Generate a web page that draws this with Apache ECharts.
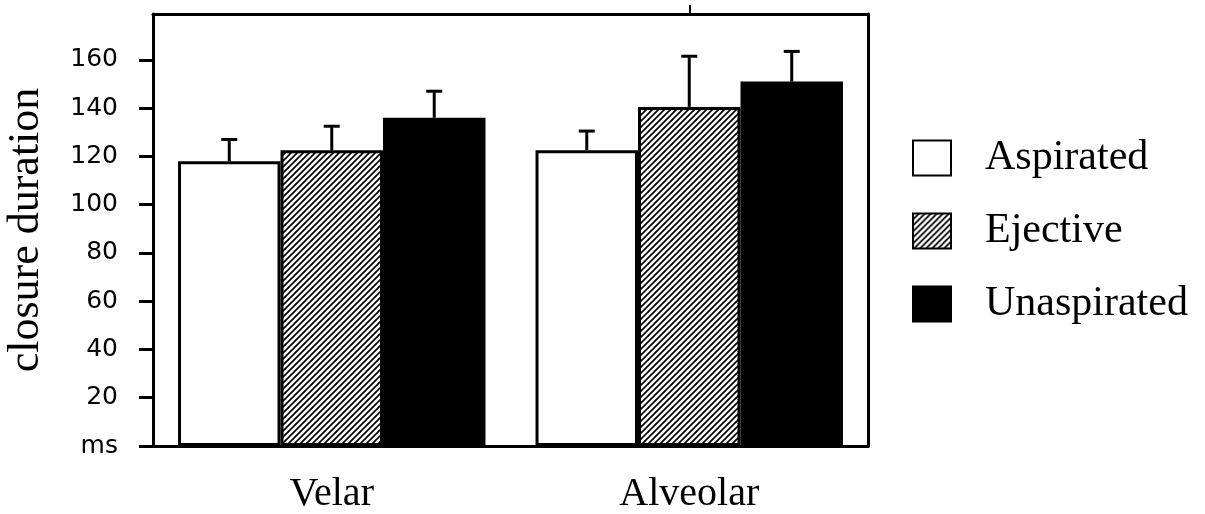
<!DOCTYPE html>
<html>
<head>
<meta charset="utf-8">
<script src="https://cdn.jsdelivr.net/npm/echarts@6/dist/echarts.min.js"></script>
<style>
  html, body { margin: 0; padding: 0; background: #fff; }
  #chart { width: 1205px; height: 514px; }
</style>
</head>
<body>
<div id="chart"></div>
<script>
// Closure duration (ms) by place of articulation and stop type
const categories = ['Velar', 'Alveolar'];
const seriesNames = ['Aspirated', 'Ejective', 'Unaspirated'];
const aspirated = [118, 122.5];
const ejective = [122.5, 140.5];
const unaspirated = [136, 151];
// upper end of each error bar
const aspiratedErr = [127, 130.5];
const ejectiveErr = [132.5, 161.5];
const unaspiratedErr = [147, 163.5];
const yTicks = [0, 20, 40, 60, 80, 100, 120, 140, 160];
// the top frame carries a single tick, over the second group
const topTicks = [1];

// diagonal hatch tile for the ejective bars
function hatchPattern() {
  const s = 6;
  const c = document.createElement('canvas');
  c.width = s; c.height = s;
  const g = c.getContext('2d');
  g.fillStyle = '#fff';
  g.fillRect(0, 0, s, s);
  g.strokeStyle = '#000';
  g.lineWidth = 1.7;
  g.beginPath();
  g.moveTo(-1, s + 1); g.lineTo(s + 1, -1);
  g.moveTo(-1, 1); g.lineTo(1, -1);
  g.moveTo(s - 1, s + 1); g.lineTo(s + 1, s - 1);
  g.stroke();
  return { image: c, repeat: 'repeat' };
}

const values = [aspirated, ejective, unaspirated];
const errs = [aspiratedErr, ejectiveErr, unaspiratedErr];
const fills = ['#ffffff', hatchPattern(), '#000000'];
const GAP = 0.14;

const barSeries = seriesNames.map((name, k) => ({
  name: name,
  type: 'bar',
  data: values[k],
  barGap: '0%',
  barCategoryGap: (GAP * 100) + '%',
  itemStyle: { color: fills[k], borderColor: '#000', borderWidth: 3 },
  emphasis: { disabled: true },
  z: 2
}));

const errSeries = seriesNames.map((name, k) => ({
  name: name + ' error',
  type: 'custom',
  z: 3,
  data: categories.map((c, i) => [i, values[k][i], errs[k][i]]),
  renderItem: function (params, api) {
    const band = api.size([1, 0])[0];
    const bw = band * (1 - GAP) / 3;
    const base = api.coord([api.value(0), api.value(1)]);
    const top = api.coord([api.value(0), api.value(2)]);
    const x = base[0] + (k - 1) * bw;
    const st = { stroke: '#000', lineWidth: 3 };
    return {
      type: 'group',
      children: [
        { type: 'line', shape: { x1: x, y1: base[1], x2: x, y2: top[1] }, style: st },
        { type: 'line', shape: { x1: x - 8, y1: top[1], x2: x + 8, y2: top[1] }, style: st }
      ]
    };
  }
}));

const chart = echarts.init(document.getElementById('chart'));
chart.setOption({
  animation: false,
  backgroundColor: '#fff',
  grid: { left: 153, right: 337, top: 14, bottom: 68, containLabel: false, outerBoundsMode: 'none' },
  legend: {
    data: seriesNames,
    orient: 'vertical',
    left: 912,
    top: 137,
    padding: 0,
    icon: 'rect',
    itemWidth: 38,
    itemHeight: 35,
    itemGap: 31,
    selectedMode: false,
    textStyle: {
      fontFamily: 'Liberation Serif', fontSize: 42, lineHeight: 35,
      color: '#000', padding: [0, 0, 0, 29]
    }
  },
  xAxis: [
    {
      type: 'category',
      data: categories,
      position: 'bottom',
      axisLine: { onZero: false, lineStyle: { color: '#000', width: 3 } },
      axisTick: { alignWithLabel: true, length: 7, lineStyle: { color: '#000', width: 2 } },
      axisLabel: { fontFamily: 'Liberation Serif', fontSize: 40, color: '#000', margin: 28 },
      splitLine: { show: false }
    },
    {
      // top frame line, on the same index scale as the categories
      type: 'value',
      position: 'top',
      min: -0.5,
      max: categories.length - 0.5,
      axisLine: { show: true, onZero: false, lineStyle: { color: '#000', width: 3 } },
      axisTick: { show: true, length: 9, customValues: topTicks, lineStyle: { color: '#000', width: 2 } },
      axisLabel: { show: false },
      splitLine: { show: false }
    }
  ],
  yAxis: [
    {
      type: 'value',
      min: 0,
      max: 179,
      name: 'closure duration',
      nameLocation: 'middle',
      nameGap: 105,
      nameTextStyle: { fontFamily: 'Liberation Serif', fontSize: 44, color: '#000' },
      axisLine: { show: true, onZero: false, lineStyle: { color: '#000', width: 3 } },
      axisTick: { show: true, length: 14, customValues: yTicks, lineStyle: { color: '#000', width: 3 } },
      axisLabel: {
        customValues: yTicks,
        margin: 35,
        fontFamily: 'DejaVu Sans',
        fontSize: 25,
        color: '#000',
        formatter: (v) => (v === 0 ? 'ms' : String(v))
      },
      splitLine: { show: false }
    },
    {
      type: 'value',
      min: 0,
      max: 179,
      position: 'right',
      axisLine: { show: true, onZero: false, lineStyle: { color: '#000', width: 3 } },
      axisTick: { show: false },
      axisLabel: { show: false },
      splitLine: { show: false }
    }
  ],
  series: barSeries.concat(errSeries)
});
</script>
</body>
</html>
